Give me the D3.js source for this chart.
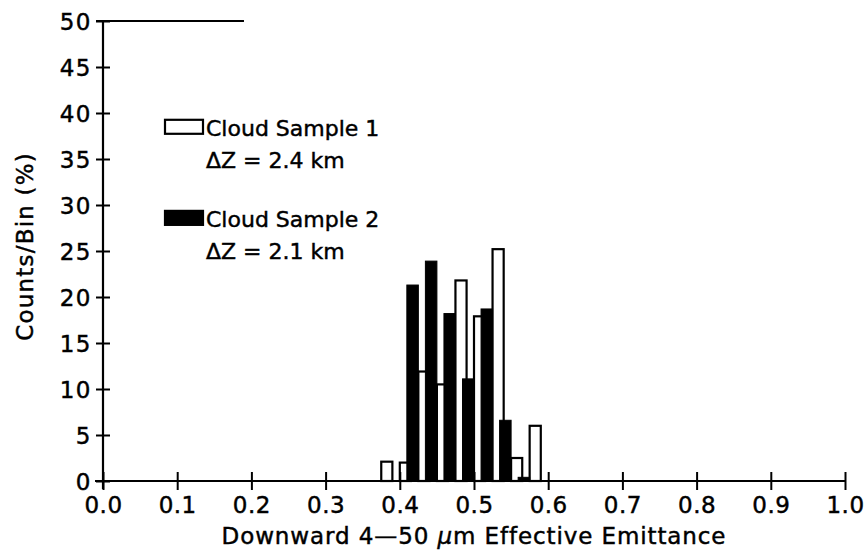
<!DOCTYPE html>
<html>
<head>
<meta charset="utf-8">
<script src="https://cdn.jsdelivr.net/npm/d3@7"></script>
<style>
  html, body { margin: 0; padding: 0; background: #fff; }
  svg text { font-family: "DejaVu Sans", "Noto Sans", sans-serif; fill: #000; stroke: #000; stroke-width: 0.45px; }
</style>
</head>
<body>
<svg id="chart" width="866" height="555"></svg>
<script>
// Histogram bins (left edge of each 0.025-wide emittance bin)
const binStarts = [0.375, 0.400, 0.425, 0.450, 0.475, 0.500, 0.525, 0.550, 0.575];
// Counts per bin (%) for each cloud sample
const sample1 = [2.1, 2.0, 11.9, 10.5, 21.8, 17.9, 25.2, 2.5, 6.0];
const sample2 = [0, 21.3, 23.9, 18.2, 11.1, 18.7, 6.6, 0.4, 0];
// Axis ticks
const xTicks = [0.0, 0.1, 0.2, 0.3, 0.4, 0.5, 0.6, 0.7, 0.8, 0.9, 1.0];
const yTicks = [0, 5, 10, 15, 20, 25, 30, 35, 40, 45, 50];
// Legend entries
const legendNames = ["Cloud Sample 1", "Cloud Sample 2"];
const legendDz = ["\u0394Z = 2.4 km", "\u0394Z = 2.1 km"];

const svg = d3.select("#chart");
const x = d3.scaleLinear().domain([0, 1]).range([103, 845]);
const y = d3.scaleLinear().domain([0, 50]).range([481, 21]);

// bar placement inside a bin (in data units)
const whiteW = 0.015, blackOff = 0.0095, blackW = 0.0155;

const bars = svg.append("g");
bars.selectAll("rect.s1")
  .data(binStarts.map((b, i) => ({ b, v: sample1[i] })).filter(d => d.v > 0))
  .join("rect")
  .attr("class", "s1")
  .attr("x", d => x(d.b))
  .attr("width", d => x(d.b + whiteW) - x(d.b))
  .attr("y", d => y(d.v))
  .attr("height", d => y(0) - y(d.v))
  .attr("fill", "#fff")
  .attr("stroke", "#000")
  .attr("stroke-width", 2.2);

bars.selectAll("rect.s2")
  .data(binStarts.map((b, i) => ({ b, v: sample2[i] })).filter(d => d.v > 0))
  .join("rect")
  .attr("class", "s2")
  .attr("x", d => x(d.b + blackOff))
  .attr("width", d => x(d.b + blackOff + blackW) - x(d.b + blackOff))
  .attr("y", d => y(d.v))
  .attr("height", d => y(0) - y(d.v))
  .attr("fill", "#000")
  .attr("stroke", "#000")
  .attr("stroke-width", 1);

// Axes with ticks crossing the axis line
const xAxis = d3.axisBottom(x).tickValues(xTicks).tickFormat(d3.format(".1f")).tickSize(8).tickPadding(3);
const gx = svg.append("g").attr("transform", `translate(0,${y(0)})`).call(xAxis);
gx.select(".domain").attr("stroke-width", 2.2).attr("d", `M${x(0) - 8},0H${x(1)}`);
gx.selectAll(".tick line").attr("y1", -9).attr("y2", 9).attr("stroke-width", 2);
gx.selectAll(".tick text").attr("font-size", 23).attr("dy", "0.9em").attr("letter-spacing", 0.5);

const yAxis = d3.axisLeft(y).tickValues(yTicks).tickSize(7).tickPadding(4);
const gy = svg.append("g").attr("transform", `translate(${x(0)},0)`).call(yAxis);
gy.select(".domain").attr("stroke-width", 2.2).attr("d", `M0,${y(0) + 8}V${y(50)}`);
gy.selectAll(".tick line").attr("x1", -7).attr("x2", 7).attr("stroke-width", 2);
gy.selectAll(".tick text").attr("font-size", 23).attr("dy", "0.36em").attr("letter-spacing", 1.5);

// short top rule from the 50 tick
svg.append("line")
  .attr("x1", x(0) - 7).attr("x2", x(0.19))
  .attr("y1", y(50)).attr("y2", y(50))
  .attr("stroke", "#000").attr("stroke-width", 2);

svg.selectAll(".domain, .tick line").attr("stroke", "#000");
svg.selectAll(".tick text").attr("fill", "#000");

// Axis titles
svg.append("text")
  .attr("x", x(0.5)).attr("y", 544)
  .attr("text-anchor", "middle").attr("font-size", 23).attr("letter-spacing", 0.9)
  .html('Downward 4\u201450 <tspan font-style="italic">\u03bc</tspan>m Effective Emittance');

svg.append("text")
  .attr("transform", `translate(33,${y(25.5)}) rotate(-90)`)
  .attr("text-anchor", "middle").attr("font-size", 23).attr("letter-spacing", 1.2)
  .text("Counts/Bin (%)");

// Legend
const leg = svg.append("g");
const legY = [y(38.5), y(28.6)];
leg.selectAll("rect")
  .data(legendNames)
  .join("rect")
  .attr("x", 165).attr("y", (d, i) => legY[i] - 7)
  .attr("width", 38).attr("height", 14)
  .attr("fill", (d, i) => i === 0 ? "#fff" : "#000")
  .attr("stroke", "#000").attr("stroke-width", 2.2);
leg.selectAll("text.name")
  .data(legendNames)
  .join("text")
  .attr("class", "name")
  .attr("x", 206).attr("y", (d, i) => legY[i] + 9)
  .attr("font-size", 22)
  .text(d => d);
leg.selectAll("text.dz")
  .data(legendDz)
  .join("text")
  .attr("class", "dz")
  .attr("x", 206).attr("y", (d, i) => legY[i] + 41)
  .attr("font-size", 22)
  .text(d => d);
</script>
</body>
</html>
